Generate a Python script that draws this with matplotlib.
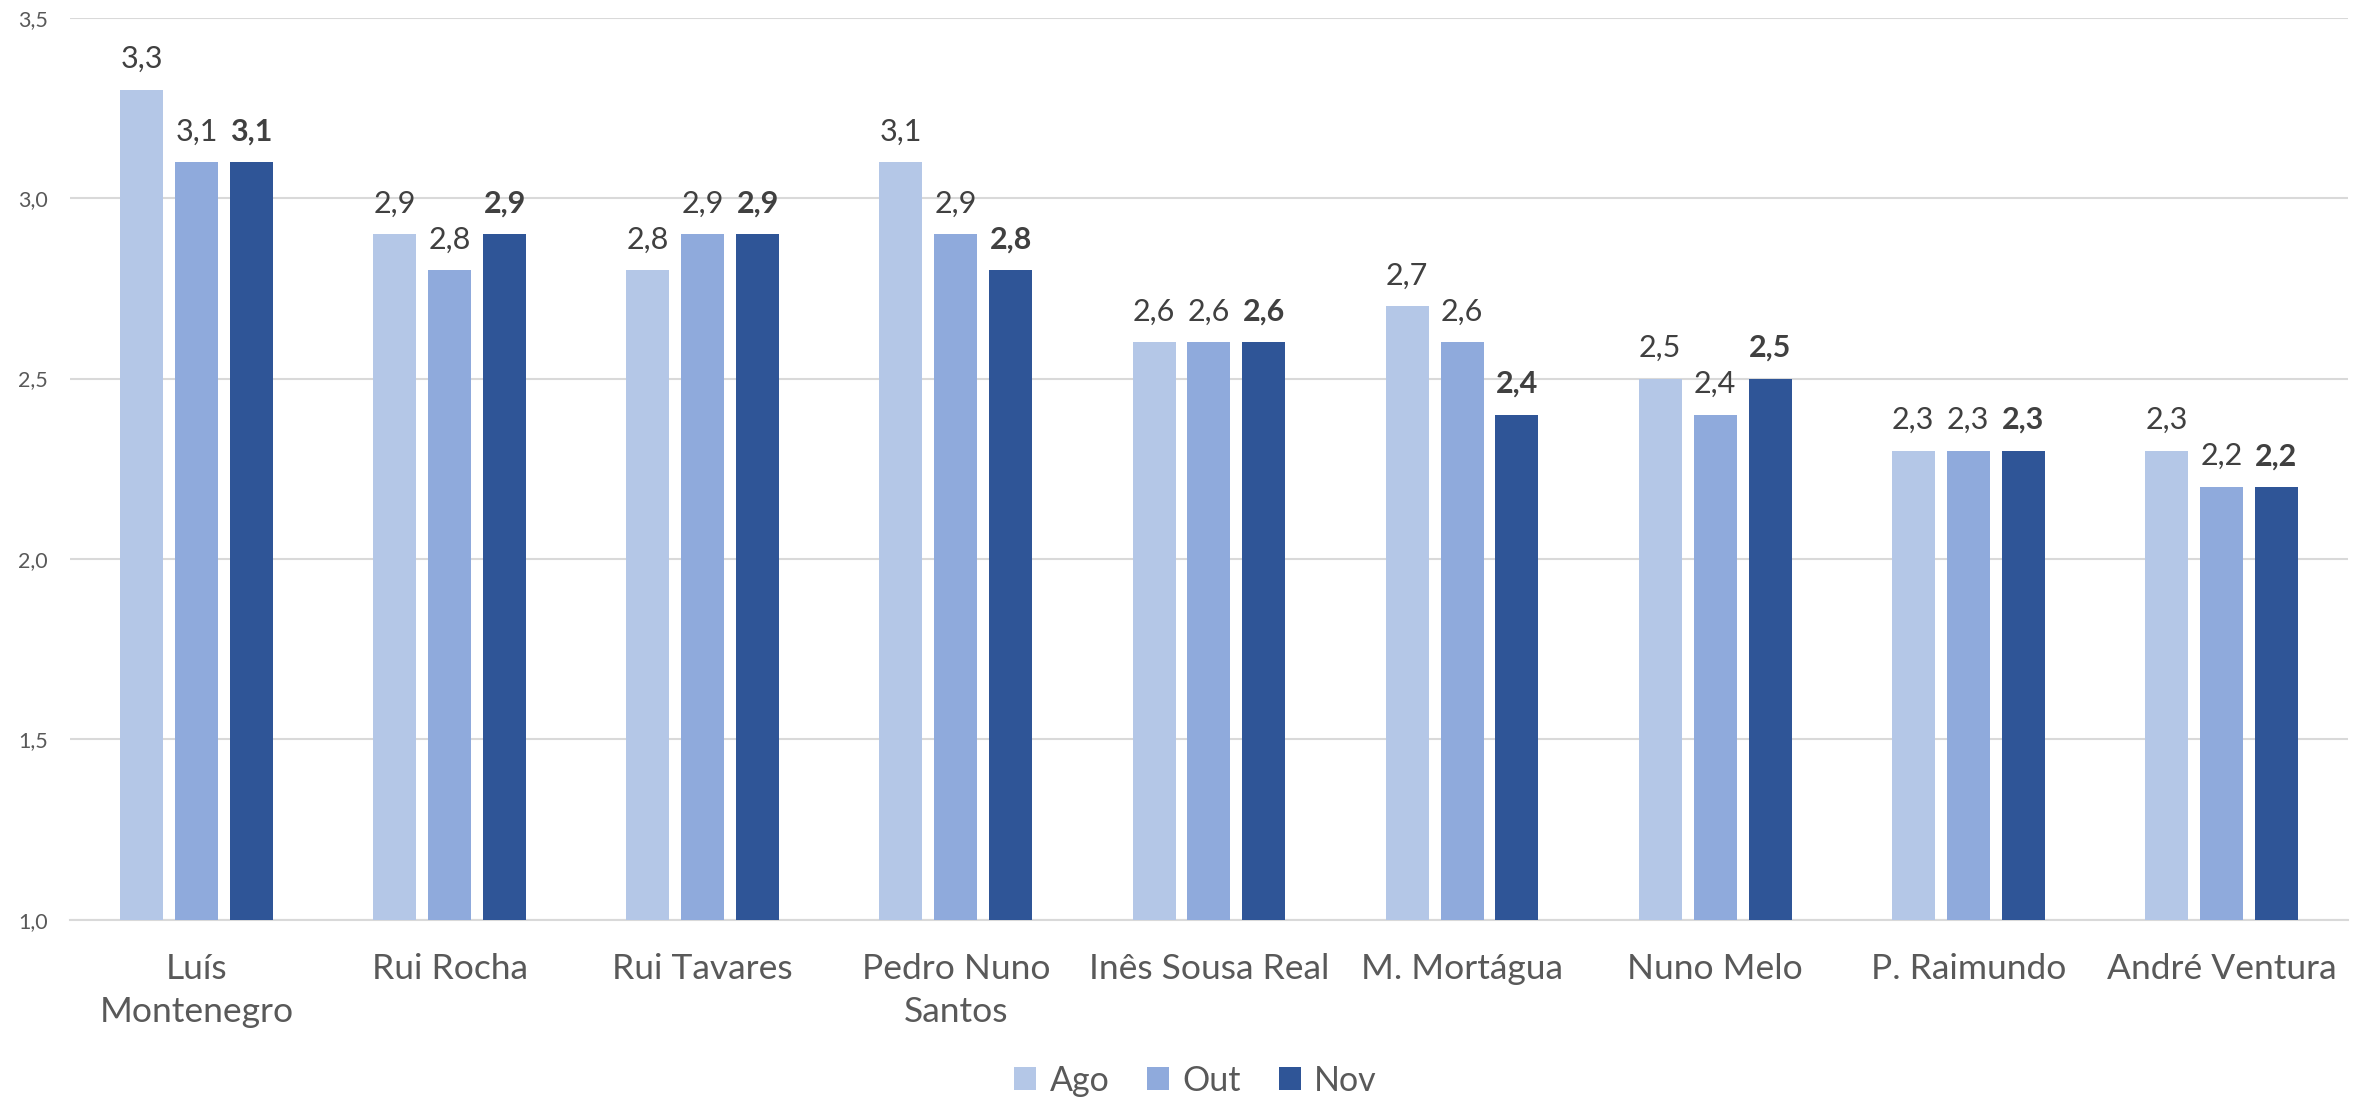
import numpy as np
import matplotlib.pyplot as plt

# sondagem: avaliação dos líderes partidários
lideres = ["Luís\nMontenegro", "Rui Rocha", "Rui Tavares", "Pedro Nuno\nSantos",
           "Inês Sousa Real", "M. Mortágua", "Nuno Melo", "P. Raimundo", "André Ventura"]
ago = [3.3, 2.9, 2.8, 3.1, 2.6, 2.7, 2.5, 2.3, 2.3]
out = [3.1, 2.8, 2.9, 2.9, 2.6, 2.6, 2.4, 2.3, 2.2]
nov = [3.1, 2.9, 2.9, 2.8, 2.6, 2.4, 2.5, 2.3, 2.2]
meses = ["Ago", "Out", "Nov"]
cores = ["#B4C7E7", "#8FAADC", "#2F5597"]

plt.rcParams['font.family'] = ['Lato', 'DejaVu Sans']

fig = plt.figure(figsize=(23.58, 11.03), dpi=100)
ax = fig.add_axes([0.0297, 0.166, 0.966, 0.818])

x = np.arange(len(lideres))
w = 0.17
step = 0.217
series = [ago, out, nov]

for i, (vals, cor, mes) in enumerate(zip(series, cores, meses)):
    pos = x + (i - 1) * step
    bars = ax.bar(pos, vals, width=w, color=cor, label=mes, zorder=3)
    labels = [f"{v:.1f}".replace(".", ",") for v in vals]
    ax.bar_label(bars, labels=labels, padding=12, fontsize=22,
                 color="#404040", fontweight="bold" if mes == "Nov" else "normal")

ax.set_ylim(1.0, 3.5)
ax.set_xlim(-0.5, len(lideres) - 0.5)
ax.set_yticks(np.arange(1.0, 3.51, 0.5))
ax.set_yticklabels([f"{t:.1f}".replace(".", ",") for t in np.arange(1.0, 3.51, 0.5)])
ax.set_xticks(x)
ax.set_xticklabels(lideres, fontsize=25.5, color="#595959", linespacing=1.4)

ax.tick_params(axis="y", length=0, labelsize=15.5, labelcolor="#595959", pad=16)
ax.tick_params(axis="x", length=0, pad=24)
ax.grid(axis="y", color="#D9D9D9", linewidth=1.5, zorder=0)
for s in ["top", "right", "left"]:
    ax.spines[s].set_visible(False)
ax.spines["bottom"].set_color("#D9D9D9")
ax.spines["bottom"].set_linewidth(1.5)

fig.legend(loc="lower center", bbox_to_anchor=(0.507, -0.022), ncol=3, frameon=False,
           fontsize=24.5, labelcolor="#595959", handlelength=0.65, handleheight=0.65,
           handletextpad=0.4, columnspacing=1.1)

fig.savefig("out.png", dpi=100)
